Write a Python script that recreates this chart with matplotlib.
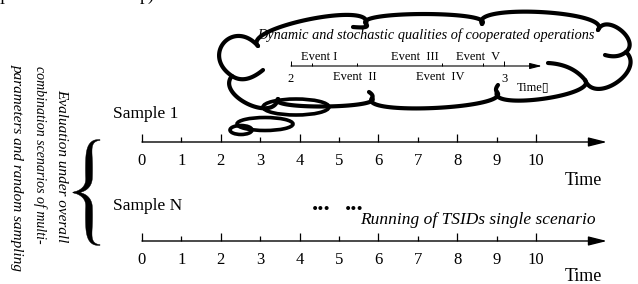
import numpy as np
import matplotlib.pyplot as plt
from matplotlib.patches import Ellipse, Polygon

plt.rcParams['font.family'] = ['Liberation Serif', 'DejaVu Serif']

W, H = 638, 284

# main timelines (one per sample)
major_ticks = [0, 2, 4, 6, 8, 10]
minor_ticks = [1, 3, 5, 7, 9]
axis_end = 11.8
row_labels = ['Sample 1', 'Sample N']

# inner timeline inside the cloud: zoom between t=2 and t=3
inner_major = [2, 3]
inner_minor = [2.10, 2.31, 2.71, 2.90]
inner_end = 3.178
event_names = ['Event I', 'Event  II', 'Event  III', 'Event  IV', 'Event  V']
event_pos = [2.13, 2.30, 2.58, 2.70, 2.88]
event_side = ['above', 'below', 'above', 'below', 'above']

side_text = ['Evaluation under overall',
             'combination scenarios of multi-',
             'parameters and random sampling']
cloud_title = 'Dynamic and stochastic qualities of cooperated operations'
run_text = 'Running of TSIDs single scenario'

fig = plt.figure(figsize=(W / 100, H / 100), dpi=100)
bg = fig.add_axes([0, 0, 1, 1])
bg.set_xlim(0, W)
bg.set_ylim(H, 0)
bg.axis('off')


def px_axes(x0, x1, y_line, h):
    return fig.add_axes([x0 / W, (H - y_line) / H, (x1 - x0) / W, h / H])


def timeline(ax, lo, hi, majors, minors, end, mlen, nlen, fs, pad, lw,
             minor_labels=True, head=(0.8, 0.2, 14)):
    ax.set_xlim(lo, hi)
    ax.set_ylim(0, 1)
    ax.patch.set_visible(False)
    for s in ax.spines.values():
        s.set_visible(False)
    ax.yaxis.set_visible(False)
    ax.set_xticks(majors, labels=[f'{m:g}' for m in majors])
    if minor_labels:
        ax.set_xticks(minors, labels=[f'{m:g}' for m in minors], minor=True)
    else:
        ax.set_xticks(minors, minor=True)
    ax.tick_params(axis='x', which='both', direction='in', width=lw * 0.9,
                   pad=pad, labelsize=fs, colors='black')
    ax.tick_params(axis='x', which='major', length=mlen)
    ax.tick_params(axis='x', which='minor', length=nlen)
    hl, hw, ms = head
    ax.annotate('', xy=(end, 0), xytext=(majors[0], 0),
                arrowprops=dict(arrowstyle=f'-|>,head_length={hl},head_width={hw}',
                                mutation_scale=ms, lw=lw, color='black',
                                shrinkA=0, shrinkB=0),
                annotation_clip=False)


# two sample rows
u = 39.4
for y_line, lab, lab_y, t_y in [(142, row_labels[0], 118, 185), (241, row_labels[1], 210, 281)]:
    ax = px_axes(142 - 0.5 * u, 142 + 12.2 * u, y_line, 10)
    timeline(ax, -0.5, 12.2, major_ticks, minor_ticks, axis_end,
             5.8, 3.6, 12, 8, 1.0)
    bg.text(113, lab_y, lab, fontsize=12.5, ha='left', va='baseline')
    bg.text(565, t_y, 'Time', fontsize=13, ha='left', va='baseline')

# inner timeline
ui = 213
axi = px_axes(291 - 0.1 * ui, 291 + 1.3 * ui, 66, 6)
timeline(axi, 1.9, 3.3, inner_major, inner_minor, inner_end,
         3.6, 2.2, 9, 5, 0.8, minor_labels=False, head=(0.8, 0.2, 9))
for name, xp, side in zip(event_names, event_pos, event_side):
    off = 9 if side == 'above' else -11
    axi.annotate(name, xy=(xp, 0), xytext=(0, off * 0.72), textcoords='offset points',
                 ha='center', va='center', fontsize=9, annotation_clip=False)
axi.annotate('Time\u25af', xy=(inner_end, 0), xytext=(-18, -15.5), textcoords='offset points',
             ha='left', va='center', fontsize=9, annotation_clip=False)


# cloud outline: scalloped bumps between cusps (pixel space)
def bez(p0, p1, p2, p3, n=50):
    t = np.linspace(0, 1, n)[:, None]
    return (1 - t) ** 3 * p0 + 3 * (1 - t) ** 2 * t * p1 + 3 * (1 - t) * t ** 2 * p2 + t ** 3 * p3


def qbez(p0, p1, p2, n=20):
    t = np.linspace(0, 1, n)[:, None]
    return (1 - t) ** 2 * p0 + 2 * (1 - t) * t * p1 + t ** 2 * p2


cusps = [(258, 46), (366, 24), (482, 24), (598, 30), (626, 52),
         (585, 80), (497, 92), (372, 98), (278, 99), (232, 76)]
bulge = [16, 10, 15, 14, 20, 13, 13, 8, 18, 28]
# curled inner ends of some bumps: (bump, 'start'/'end', end point)
hooks = [(9, 'start', (263, 70)), (5, 'start', (548, 63)), (3, 'end', (605, 55)),
         (6, 'start', (498, 85)), (6, 'end', (369, 92)), (1, 'start', (353, 27))]

bg.add_patch(Polygon(np.array(cusps), closed=True, facecolor='white', edgecolor='none', zorder=1))
for i in range(len(cusps)):
    P = np.array(cusps[i], float)
    Q = np.array(cusps[(i + 1) % len(cusps)], float)
    d = Q - P
    n = np.array([d[1], -d[0]]) / np.hypot(*d)
    h = bulge[i]
    C1 = P + n * h * 1.33 - d * 0.12
    C2 = Q + n * h * 1.33 + d * 0.12
    parts = [bez(P, C1, C2, Q)]
    for j, side, E in hooks:
        if j != i:
            continue
        E = np.array(E, float)
        if side == 'start':
            tin = (P - C1) / np.hypot(*(P - C1))
            L = np.hypot(*(E - P))
            parts.insert(0, qbez(E, P + tin * L * 0.5, P))
        else:
            tin = (Q - C2) / np.hypot(*(Q - C2))
            L = np.hypot(*(E - Q))
            parts.append(qbez(Q, Q + tin * L * 0.5, E))
    line = np.vstack(parts)
    bg.plot(line[:, 0], line[:, 1], color='black', lw=3, solid_capstyle='round', zorder=2)

# thought bubbles
for (cx, cy), w, hh in [((296, 107), 66, 16), ((265, 124), 56, 13), ((241, 130), 22, 9)]:
    bg.add_patch(Ellipse((cx, cy), w, hh, facecolor='none', edgecolor='black', lw=2.6, zorder=2))

bg.text(426, 35, cloud_title, style='italic', fontsize=10.3, ha='center', va='center', zorder=3)

# brace
c1 = bez(np.array([100., 140]), np.array([89., 140]), np.array([89., 150]), np.array([89., 160]), 30)
c2 = np.linspace([89, 160], [89, 178], 15)
c3 = bez(np.array([89., 178]), np.array([89., 188]), np.array([81., 192]), np.array([73., 192.5]), 30)
upper = np.vstack([c1, c2[1:], c3[1:]])
lower = upper[::-1].copy()
lower[:, 1] = 385 - lower[:, 1]
cl = np.vstack([upper, lower[1:]])
m = len(upper)
s = np.concatenate([np.linspace(0, 1, m), np.linspace(1, 0, len(cl) - m + 1)[1:]])
wid = 0.8 + 6.2 * np.sin(np.pi * s) ** 1.2
tang = np.gradient(cl, axis=0)
tang /= np.hypot(tang[:, 0], tang[:, 1])[:, None]
nrm = np.column_stack([-tang[:, 1], tang[:, 0]])
outline = np.vstack([cl + nrm * wid[:, None] / 2, (cl - nrm * wid[:, None] / 2)[::-1]])
bg.add_patch(Polygon(outline, closed=True, facecolor='black', edgecolor='black', lw=0.3))

# rotated side text
for (x, y), t, fs in zip([(62, 166), (40, 155), (17, 167)], side_text, [11, 10, 11]):
    bg.text(x, y, t, rotation=-90, style='italic', fontsize=fs, ha='center', va='center')

bg.text(312, 210, '...', fontsize=18, fontweight='bold', ha='left', va='baseline')
bg.text(345, 210, '...', fontsize=18, fontweight='bold', ha='left', va='baseline')
bg.text(360, 224, run_text, style='italic', fontsize=12.5, ha='left', va='baseline')

# cropped line of text at the very top
bg.text(0, 4, 'l', fontsize=13, ha='left', va='baseline')
bg.text(140, 0, 'p)', fontsize=13, ha='left', va='baseline')

fig.savefig('out.png', dpi=100)
